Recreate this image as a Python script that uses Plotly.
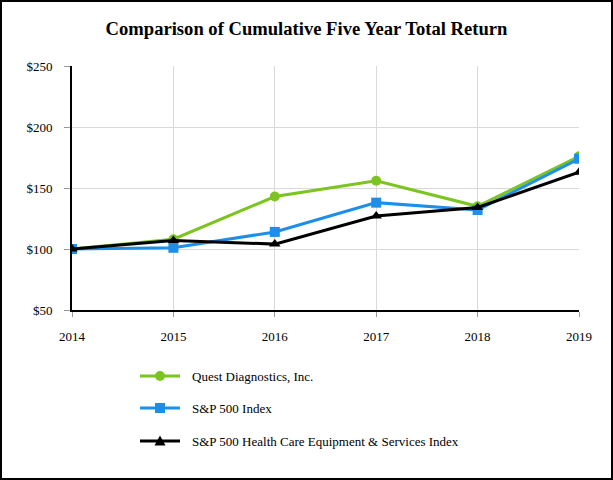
import plotly.graph_objects as go

years = [2014, 2015, 2016, 2017, 2018, 2019]
quest = [100, 108, 143, 156, 135, 176]
sp500 = [100, 101, 114, 138, 132, 174]
hc_index = [100, 107, 104, 127, 134, 163]
series_names = ["Quest Diagnostics, Inc.", "S&P 500 Index",
                "S&P 500 Health Care Equipment & Services Index"]
y_ticks = [50, 100, 150, 200, 250]
y_tick_labels = ["$50", "$100", "$150", "$200", "$250"]

colors = ["#7CC41F", "#1C8FEA", "#000000"]
symbols = ["circle", "square", "triangle-up"]
serif = "Liberation Serif, Times New Roman, serif"

W, H = 613, 480
L, R, T, B = 72, 34, 66, 170
PW, PH = W - L - R, H - T - B


def px_x(px):
    return (px - L) / PW


def px_y(py):
    return (H - B - py) / PH


fig = go.Figure()
for i, (vals, name) in enumerate(zip([quest, sp500, hc_index], series_names)):
    fig.add_trace(go.Scatter(
        x=years, y=vals, name=name, mode="lines+markers",
        line=dict(color=colors[i], width=3),
        marker=dict(symbol=symbols[i], size=10, color=colors[i]),
        showlegend=False,
    ))

fig.update_layout(
    width=W, height=H,
    margin=dict(l=L, r=R, t=T, b=B),
    paper_bgcolor="white", plot_bgcolor="white",
    font=dict(family=serif, size=13, color="black"),
    title=dict(text="<b>Comparison of Cumulative Five Year Total Return</b>",
               x=0.5, xanchor="center", y=1 - 28 / H, yanchor="middle",
               font=dict(family=serif, size=18.6, color="black")),
    showlegend=False,
    xaxis=dict(range=[2014, 2019], tickvals=years, ticktext=[str(y) for y in years],
               showgrid=True, gridcolor="#D9D9D9", gridwidth=1,
               showline=True, linecolor="black", linewidth=2,
               ticks="outside", ticklen=5, tickcolor="#999999",
               ticklabelstandoff=8,
               zeroline=False, tickfont=dict(family=serif, size=13)),
    yaxis=dict(range=[50, 250], tickvals=y_ticks, ticktext=y_tick_labels,
               showgrid=True, gridcolor="#D9D9D9", gridwidth=1,
               showline=True, linecolor="black", linewidth=2,
               ticks="outside", ticklen=6, tickcolor="#999999",
               ticklabelstandoff=9,
               zeroline=False, tickfont=dict(family=serif, size=13)),
)

# custom legend
legend_rows = [376, 408, 441]
for i, name in enumerate(series_names):
    yp = px_y(legend_rows[i])
    fig.add_shape(type="line", xref="paper", yref="paper",
                  x0=px_x(140), x1=px_x(180), y0=yp, y1=yp,
                  line=dict(color=colors[i], width=3))
    common = dict(xref="paper", yref="paper", xsizemode="pixel", ysizemode="pixel",
                  xanchor=px_x(160), yanchor=yp, fillcolor=colors[i],
                  line=dict(color=colors[i], width=0))
    if symbols[i] == "circle":
        fig.add_shape(type="circle", x0=-5, x1=5, y0=-5, y1=5, **common)
    elif symbols[i] == "square":
        fig.add_shape(type="rect", x0=-5, x1=5, y0=-5, y1=5, **common)
    else:
        fig.add_shape(type="path", path="M -5.5 -4.5 L 5.5 -4.5 L 0 5.5 Z", **common)
    fig.add_annotation(xref="paper", yref="paper", x=px_x(190), y=yp,
                       xanchor="left", yanchor="middle", showarrow=False,
                       text=name, font=dict(family=serif, size=13, color="black"))

# outer border around whole image
fig.add_shape(type="rect", xref="paper", yref="paper",
              x0=px_x(1), x1=px_x(612), y0=px_y(479), y1=px_y(1),
              line=dict(color="black", width=2), fillcolor="rgba(0,0,0,0)")

fig.write_html("out.html", config={"displayModeBar": False},
               post_script="document.body.style.margin='0';document.body.style.overflow='hidden';")
